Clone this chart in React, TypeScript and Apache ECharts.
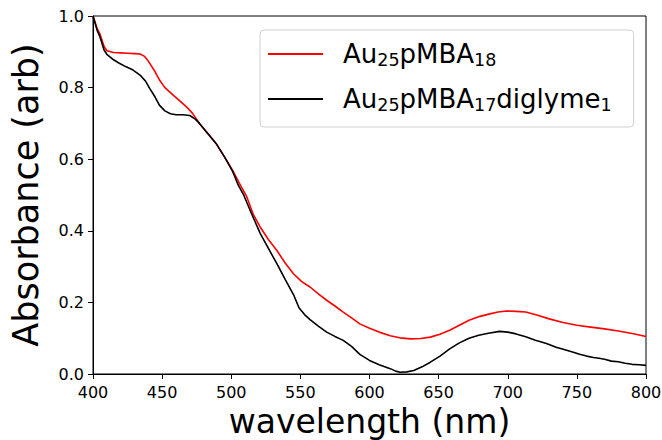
import React, { useEffect, useRef } from "react";
import * as echarts from "echarts";

// Absorbance spectra of the two gold clusters (wavelength in nm, absorbance in arb. units)
const pmba18Wavelength = [
  400, 403, 405, 408, 410, 415, 420, 425, 430, 434, 437, 440, 444, 448, 452, 458, 463, 468, 472, 477,
  483, 489, 495, 501, 507, 511, 516, 521, 527, 533, 539, 545, 551, 557, 563, 569, 575, 581, 587, 593,
  600, 607, 615, 622, 630, 637, 644, 651, 658, 665, 672, 680, 687, 693, 699, 706, 713, 721, 730, 740,
  750, 760, 770, 780, 790, 800,
];
const pmba18Absorbance = [
  1.0, 0.965, 0.95, 0.915, 0.903, 0.898, 0.897, 0.896, 0.895, 0.894, 0.888, 0.874, 0.85, 0.822, 0.8,
  0.779, 0.762, 0.745, 0.728, 0.7, 0.672, 0.644, 0.607, 0.569, 0.525, 0.497, 0.445, 0.41, 0.375, 0.345,
  0.31, 0.28, 0.258, 0.243, 0.224, 0.206, 0.19, 0.173, 0.157, 0.14, 0.128, 0.117, 0.107, 0.101, 0.098,
  0.099, 0.103, 0.111, 0.122, 0.136, 0.15, 0.161, 0.168, 0.173, 0.176, 0.175, 0.173, 0.165, 0.154,
  0.144, 0.136, 0.131, 0.126, 0.12, 0.113, 0.105,
];

const diglymeWavelength = [
  400, 403, 405, 408, 410, 414, 419, 424, 429, 434, 438, 441, 445, 448, 452, 456, 460, 465, 470, 474,
  477, 483, 489, 495, 501, 505, 509, 515, 521, 527, 533, 539, 545, 549, 553, 557, 563, 569, 575, 581,
  587, 593, 600, 607, 615, 619, 622, 627, 632, 638, 644, 651, 658, 665, 672, 679, 686, 694, 700, 706,
  713, 720, 728, 735, 742, 748, 752, 757, 762, 766, 770, 775, 780, 785, 790, 795, 800,
];
const diglymeAbsorbance = [
  1.0, 0.96, 0.942, 0.905, 0.893, 0.88, 0.868, 0.858, 0.849, 0.835, 0.818, 0.798, 0.773, 0.751, 0.735,
  0.727, 0.724, 0.724, 0.722, 0.712, 0.7, 0.672, 0.644, 0.607, 0.566, 0.528, 0.5, 0.445, 0.392, 0.35,
  0.308, 0.264, 0.222, 0.185, 0.166, 0.152, 0.134, 0.117, 0.105, 0.094, 0.077, 0.055, 0.038, 0.026,
  0.015, 0.008, 0.005, 0.006, 0.01, 0.02, 0.033, 0.05, 0.07, 0.087, 0.1, 0.108, 0.114, 0.119, 0.117,
  0.112, 0.104, 0.094, 0.085, 0.075, 0.067, 0.06, 0.055, 0.05, 0.046, 0.044, 0.041, 0.036, 0.034,
  0.03, 0.027, 0.026, 0.024,
];

const seriesNames = ["Au25pMBA18", "Au25pMBA17diglyme1"];
// Legend labels split into normal text and subscript runs
const legendRich: Record<string, string> = {
  Au25pMBA18: "{m|Au}{s|25}{m|pMBA}{s|18}",
  Au25pMBA17diglyme1: "{m|Au}{s|25}{m|pMBA}{s|17}{m|diglyme}{s|1}",
};

const xTicks = { min: 400, max: 800, interval: 50 };
const yTicks = { min: 0, max: 1, interval: 0.2 };

const FONT = "DejaVu Sans";

const zip = (xs: number[], ys: number[]) => xs.map((x, i) => [x, ys[i]]);

export default function App() {
  const ref = useRef<HTMLDivElement>(null);

  useEffect(() => {
    if (!ref.current) return;
    const chart = echarts.init(ref.current, undefined, { renderer: "svg" });
    chart.setOption({
      animation: false,
      backgroundColor: "#ffffff",
      grid: {
        left: 93,
        right: 16,
        top: 16,
        bottom: 66,
        containLabel: false,
        outerBoundsMode: "none",
        show: true,
        borderColor: "#000",
        borderWidth: 1,
        backgroundColor: "transparent",
      },
      legend: {
        orient: "vertical",
        left: 260,
        top: 30,
        padding: [11, 22, 13, 8],
        itemGap: 17,
        itemWidth: 55,
        itemHeight: 2,
        icon: "rect",
        borderColor: "#d0d0d0",
        borderWidth: 1,
        borderRadius: 4,
        backgroundColor: "#ffffff",
        data: seriesNames,
        formatter: (name: string) => legendRich[name] ?? name,
        textStyle: {
          padding: [0, 0, 0, 15],
          rich: {
            m: { fontFamily: FONT, fontSize: 26, color: "#000", lineHeight: 30 },
            s: {
              fontFamily: FONT,
              fontSize: 17.5,
              color: "#000",
              lineHeight: 20,
              verticalAlign: "bottom",
            },
          },
        },
      },
      xAxis: {
        type: "value",
        min: xTicks.min,
        max: xTicks.max,
        interval: xTicks.interval,
        name: "wavelength (nm)",
        nameLocation: "middle",
        nameGap: 28,
        nameTextStyle: { fontFamily: FONT, fontSize: 33, lineHeight: 30, color: "#000" },
        axisLine: { show: true, lineStyle: { color: "#000", width: 1 } },
        axisTick: { show: true, length: 5, lineStyle: { color: "#000" } },
        axisLabel: { fontFamily: FONT, fontSize: 16, color: "#000", margin: 10 },
        splitLine: { show: false },
      },
      yAxis: {
        type: "value",
        min: yTicks.min,
        max: yTicks.max,
        interval: yTicks.interval,
        name: "Absorbance (arb)",
        nameLocation: "middle",
        nameGap: 50,
        nameTextStyle: { fontFamily: FONT, fontSize: 35, color: "#000" },
        axisLine: { show: true, lineStyle: { color: "#000", width: 1 } },
        axisTick: { show: true, length: 5, lineStyle: { color: "#000" } },
        axisLabel: {
          fontFamily: FONT,
          fontSize: 16,
          color: "#000",
          margin: 9,
          formatter: (v: number) => v.toFixed(1),
        },
        splitLine: { show: false },
      },
      series: [
        {
          name: seriesNames[0],
          type: "line",
          symbol: "none",
          data: zip(pmba18Wavelength, pmba18Absorbance),
          lineStyle: { color: "#ff0000", width: 1.6 },
          itemStyle: { color: "#ff0000" },
          z: 2,
        },
        {
          name: seriesNames[1],
          type: "line",
          symbol: "none",
          data: zip(diglymeWavelength, diglymeAbsorbance),
          lineStyle: { color: "#000000", width: 1.6 },
          itemStyle: { color: "#000000" },
          z: 3,
        },
      ],
    });
    return () => chart.dispose();
  }, []);

  return (
    <div
      ref={ref}
      style={{ position: "fixed", left: 0, top: 0, width: 662, height: 440 }}
    />
  );
}
